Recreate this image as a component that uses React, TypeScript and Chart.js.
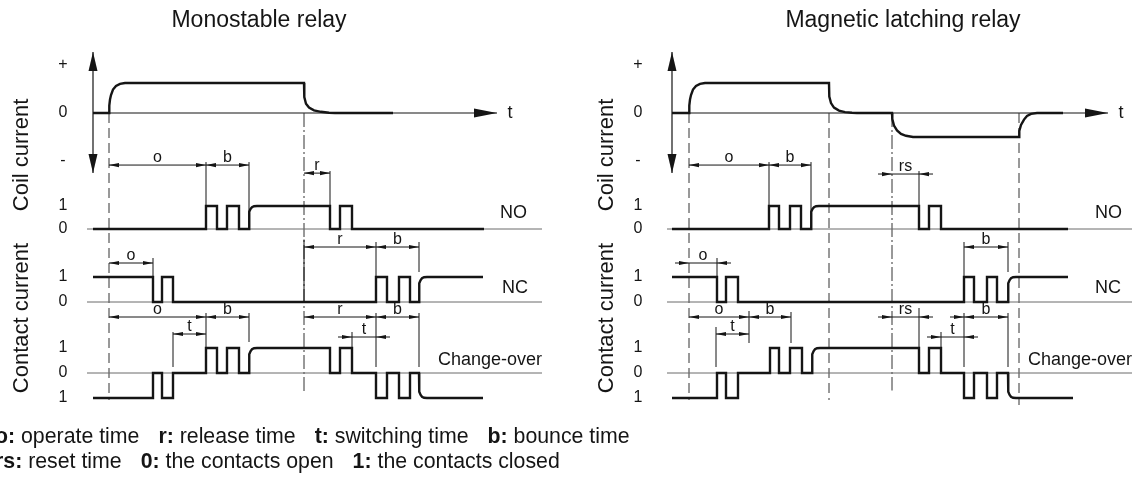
import React, { useEffect, useRef } from "react";
import { Chart, registerables } from "chart.js";
Chart.register(...registerables);

type Pt = [number, number];

// ---------- DATA (time in arbitrary units, 0 = coil energised; level per row) ----------
// Monostable relay
const monoCoil: Pt[] = [[-16,0],[0,0],[0.3,0.25],[1,0.45],[2,0.6],[4,0.78],[7,0.9],[11,0.97],[16,1],[195,1],[195.3,0.53],[197,0.31],[200,0.18],[205,0.09],[212,0.04],[220,0.01],[226,0],[284,0]];
const monoNO: Pt[] = [[-16,0],[97,0],[97,1],[108,1],[108,0],[118,0],[118,1],[130,1],[130,0],[140,0],[140,0.6],[140.5,0.75],[141.5,0.87],[143,0.95],[145,0.99],[148,1],[221,1],[221,0],[231,0],[231,1],[243,1],[243,0],[375,0]];
const monoNC: Pt[] = [[-16,1],[44,1],[44,0],[53,0],[53,1],[64,1],[64,0],[267,0],[267,1],[278,1],[278,0],[290,0],[290,1],[301,1],[301,0],[310,0],[310,0.6],[310.5,0.75],[311.5,0.87],[313,0.95],[315,0.99],[318,1],[374,1]];
const monoCO: Pt[] = [[-16,-1],[44,-1],[44,0],[53,0],[53,-1],[64,-1],[64,0],[97,0],[97,1],[108,1],[108,0],[118,0],[118,1],[130,1],[130,0],[140,0],[140,0.6],[140.5,0.75],[141.5,0.87],[143,0.95],[145,0.99],[148,1],[221,1],[221,0],[231,0],[231,1],[243,1],[243,0],[267,0],[267,-1],[278,-1],[278,0],[290,0],[290,-1],[301,-1],[301,0],[310,0],[310,-0.6],[310.5,-0.75],[311.5,-0.87],[313,-0.95],[315,-0.99],[318,-1],[374,-1]];
const monoBase: Pt[] = [[-22,0],[433,0]];

// Magnetic latching relay
const latchCoil: Pt[] = [[-17,0],[0,0],[0.3,0.25],[1,0.45],[2,0.6],[4,0.78],[7,0.9],[11,0.97],[16,1],[140,1],[140.3,0.55],[142,0.33],[145,0.18],[150,0.08],[156,0.03],[163,0.01],[168,0],[203,0],[203.3,-0.2],[205,-0.42],[208,-0.58],[212,-0.7],[217,-0.76],[224,-0.8],[330,-0.8],[330.3,-0.6],[332,-0.4],[335,-0.22],[338,-0.1],[342,-0.03],[348,0],[374,0]];
const latchNO: Pt[] = [[-17,0],[80,0],[80,1],[90,1],[90,0],[101,0],[101,1],[112,1],[112,0],[122,0],[122,0.6],[122.5,0.75],[123.5,0.87],[125,0.95],[127,0.99],[130,1],[230,1],[230,0],[240,0],[240,1],[252,1],[252,0],[379,0]];
const latchNC: Pt[] = [[-17,1],[28,1],[28,0],[37,0],[37,1],[49,1],[49,0],[275,0],[275,1],[285,1],[285,0],[298,0],[298,1],[308,1],[308,0],[319,0],[319,0.6],[319.5,0.75],[320.5,0.87],[322,0.95],[324,0.99],[327,1],[379,1]];
const latchCO: Pt[] = [[-17,-1],[28,-1],[28,0],[37,0],[37,-1],[49,-1],[49,0],[81,0],[81,1],[90,1],[90,0],[101,0],[101,1],[113,1],[113,0],[123,0],[123,0.6],[123.5,0.75],[124.5,0.87],[126,0.95],[128,0.99],[131,1],[230,1],[230,0],[240,0],[240,1],[252,1],[252,0],[275,0],[275,-1],[285,-1],[285,0],[298,0],[298,-1],[308,-1],[308,0],[319,0],[319,-0.6],[319.5,-0.75],[320.5,-0.87],[322,-0.95],[324,-0.99],[327,-1],[384,-1]];
const latchBase: Pt[] = [[-22,0],[443,0]];

// Tick labels per row: [text, level]
const coilTicks: [string, number][] = [["+", 1.6], ["0", 0], ["-", -1.57]];
const noTicks: [string, number][] = [["1", 1], ["0", 0]];
const ncTicks: [string, number][] = [["1", 1], ["0", 0]];
const coTicks: [string, number][] = [["1", 1], ["0", 0], ["1", -1]];

// Dimension arrows: [row axis, level, t1, t2, label, style]
type Dim = [string, number, number, number, string, string];
const monoDims: Dim[] = [
  ["yNO", 2.78, 0, 97, "o", "in"], ["yNO", 2.78, 97, 140, "b", "in"], ["yNO", 2.43, 195, 221, "r", "in"],
  ["yNC", 1.56, 0, 44, "o", "in"], ["yNC", 2.2, 195, 267, "r", "in"], ["yNC", 2.2, 267, 310, "b", "in"],
  ["yCO", 2.24, 0, 97, "o", "in"], ["yCO", 2.24, 97, 140, "b", "in"], ["yCO", 1.56, 64, 97, "t", "in"],
  ["yCO", 2.24, 195, 267, "r", "in"], ["yCO", 2.24, 267, 310, "b", "in"], ["yCO", 1.44, 243, 267, "t", "out"],
];
const latchDims: Dim[] = [
  ["yNO", 2.78, 0, 80, "o", "in"], ["yNO", 2.78, 80, 122, "b", "in"], ["yNO", 2.39, 203, 230, "rs", "out"],
  ["yNC", 1.56, 0, 28, "o", "out"], ["yNC", 2.2, 275, 319, "b", "in"],
  ["yCO", 2.24, 0, 60, "o", "in"], ["yCO", 2.24, 60, 102, "b", "in"], ["yCO", 1.56, 27, 60, "t", "in"],
  ["yCO", 2.24, 203, 230, "rs", "out"], ["yCO", 2.24, 275, 319, "b", "inx"], ["yCO", 1.44, 252, 275, "t", "out"],
];

// Extension lines: [row axis, t, level from, level to]
type Ext = [string, number, number, number];
const monoExt: Ext[] = [
  ["yNO", 97, 2.91, 1], ["yNO", 140, 2.91, 0], ["yNO", 221, 2.52, 1],
  ["yNC", 44, 1.76, 1], ["yNC", 267, 2.4, 1], ["yNC", 310, 2.4, 1.2], ["yNC", 195, 2.5, 0],
  ["yCO", 64, 1.64, 0.24], ["yCO", 97, 2.4, 1.04], ["yCO", 140, 2.4, 1.24],
  ["yCO", 243, 1.64, 1], ["yCO", 267, 2.4, 0.24], ["yCO", 310, 2.4, 0.24],
];
const latchExt: Ext[] = [
  ["yNO", 80, 2.91, 1], ["yNO", 122, 2.91, 0], ["yNO", 230, 2.52, 1],
  ["yNC", 28, 1.76, 1], ["yNC", 275, 2.4, 1], ["yNC", 319, 2.4, 1.2],
  ["yCO", 27, 1.84, 0.24], ["yCO", 60, 2.48, 1.2], ["yCO", 102, 2.44, 1.2],
  ["yCO", 230, 2.6, 1], ["yCO", 252, 1.64, 1], ["yCO", 275, 2.4, 0.24], ["yCO", 319, 2.4, 0.24],
];

// Switching instants (vertical guide lines): [t, style, end level on change-over row]
type VLine = [number, string, number];
const monoGuides: VLine[] = [[0, "dash", -1.08], [195, "dashdot", -0.8]];
const latchGuides: VLine[] = [[0, "dash", -1.08], [140, "dash", -1.08], [203, "dashdot", -0.7], [330, "dash", -1.28]];

const titles = ["Monostable relay", "Magnetic latching relay"];
const rowNames = ["NO", "NC", "Change-over"];
const axisTitles = ["Coil current", "Contact current"];
const legendLines: [string, string][][] = [
  [["o:", " operate time"], ["r:", " release time"], ["t:", " switching time"], ["b:", " bounce time"]],
  [["rs:", " reset time"], ["0:", " the contacts open"], ["1:", " the contacts closed"]],
];

// ---------- LAYOUT ----------
const W = 1141, H = 477;
const FONT = '"Liberation Sans", Arial, Helvetica, sans-serif';
const xAxis = (zeroPx: number) => ({ type: "linear" as const, display: false, bounds: "data" as const, min: -zeroPx, max: W - zeroPx });
const yAxis = (zeroPx: number, unitPx: number) => ({ type: "linear" as const, display: false, bounds: "data" as const, min: -(H - zeroPx) / unitPx, max: zeroPx / unitPx });

const panels = [
  { x: "xL", axisT: -16, arrowEnd: 388, tLabel: 401, tickT: -46, titleT: 150, axisTitleT: -87,
    rowLabelT: [391, 393, 329], dims: monoDims, ext: monoExt, guides: monoGuides },
  { x: "xR", axisT: -17, arrowEnd: 419, tLabel: 432, tickT: -51, titleT: 214, axisTitleT: -82,
    rowLabelT: [406, 406, 339], dims: latchDims, ext: latchExt, guides: latchGuides },
];

const INK = "#151515";

function head(ctx: CanvasRenderingContext2D, x: number, y: number, dx: number, dy: number, len: number, hw: number) {
  const bx = x - dx * len, by = y - dy * len;
  const px = -dy * hw, py = dx * hw;
  ctx.beginPath();
  ctx.moveTo(x, y);
  ctx.lineTo(bx + px, by + py);
  ctx.lineTo(bx - px, by - py);
  ctx.closePath();
  ctx.fill();
}

const diagramPlugin = {
  id: "relayDiagram",
  beforeDatasetsDraw(chart: any) {
    const ctx: CanvasRenderingContext2D = chart.ctx;
    const S = chart.scales;
    ctx.save();
    ctx.strokeStyle = INK;
    ctx.fillStyle = INK;
    for (const p of panels) {
      const X = (t: number) => S[p.x].getPixelForValue(t);
      const yc = (v: number) => S.yCoil.getPixelForValue(v);
      // axes with arrowheads
      ctx.lineWidth = 1.2;
      ctx.setLineDash([]);
      ctx.beginPath();
      ctx.moveTo(X(p.axisT), yc(2.03));
      ctx.lineTo(X(p.axisT), yc(-2.0));
      ctx.moveTo(X(p.axisT), yc(0));
      ctx.lineTo(X(p.arrowEnd), yc(0));
      ctx.stroke();
      head(ctx, X(p.axisT), yc(2.03), 0, -1, 19, 4.5);
      head(ctx, X(p.axisT), yc(-2.0), 0, 1, 19, 4.5);
      head(ctx, X(p.arrowEnd), yc(0), 1, 0, 23, 4.5);
      // guide lines
      ctx.lineWidth = 1;
      ctx.strokeStyle = "#333";
      for (const [t, style, endLv] of p.guides) {
        ctx.setLineDash(style === "dash" ? [10, 5] : [14, 3, 2, 3]);
        ctx.beginPath();
        ctx.moveTo(X(t), yc(0));
        ctx.lineTo(X(t), S.yCO.getPixelForValue(endLv));
        ctx.stroke();
      }
      ctx.setLineDash([]);
      ctx.strokeStyle = INK;
    }
    ctx.restore();
  },
  afterDatasetsDraw(chart: any) {
    const ctx: CanvasRenderingContext2D = chart.ctx;
    const S = chart.scales;
    ctx.save();
    ctx.strokeStyle = INK;
    ctx.fillStyle = INK;
    panels.forEach((p, pi) => {
      const X = (t: number) => S[p.x].getPixelForValue(t);
      // extension lines
      ctx.lineWidth = 1;
      ctx.beginPath();
      for (const [ax, t, a, b] of p.ext) {
        ctx.moveTo(X(t), S[ax].getPixelForValue(a));
        ctx.lineTo(X(t), S[ax].getPixelForValue(b));
      }
      ctx.stroke();
      // dimensions
      ctx.font = `16px ${FONT}`;
      ctx.textAlign = "center";
      ctx.textBaseline = "alphabetic";
      for (const [ax, lv, t1, t2, label, style] of p.dims) {
        const x1 = X(t1), x2 = X(t2), y = S[ax].getPixelForValue(lv);
        const L = 10, hw = 2.1, out = 14;
        ctx.lineWidth = 1;
        ctx.beginPath();
        if (style === "out") { ctx.moveTo(x1 - out, y); ctx.lineTo(x2 + out, y); }
        else if (style === "inx") { ctx.moveTo(x1 - out, y); ctx.lineTo(x2, y); }
        else { ctx.moveTo(x1, y); ctx.lineTo(x2, y); }
        ctx.stroke();
        if (style === "out") { head(ctx, x1, y, 1, 0, L, hw); head(ctx, x2, y, -1, 0, L, hw); }
        else { head(ctx, x1, y, -1, 0, L, hw); head(ctx, x2, y, 1, 0, L, hw); if (style === "inx") head(ctx, x1, y, 1, 0, L, hw); }
        ctx.fillText(label, (x1 + x2) / 2, y - 3);
      }
      // tick labels
      ctx.font = `16px ${FONT}`;
      ctx.textBaseline = "middle";
      const tx = X(p.tickT);
      const rowTicks: [string, [string, number][]][] = [["yCoil", coilTicks], ["yNO", noTicks], ["yNC", ncTicks], ["yCO", coTicks]];
      for (const [ax, ticks] of rowTicks) for (const [txt, lv] of ticks) ctx.fillText(txt, tx, S[ax].getPixelForValue(lv));
      // row names
      ctx.font = `18px ${FONT}`;
      ctx.textAlign = "left";
      const rowAx = ["yNO", "yNC", "yCO"], rowLv = [0.7, 0.56, 0.52];
      rowNames.forEach((n, i) => ctx.fillText(n, X(p.rowLabelT[i]), S[rowAx[i]].getPixelForValue(rowLv[i])));
      // "t" label
      ctx.textAlign = "center";
      ctx.fillText("t", X(p.tLabel), S.yCoil.getPixelForValue(0));
      // title
      ctx.font = `23px ${FONT}`;
      ctx.fillText(titles[pi], X(p.titleT), S.yCoil.getPixelForValue(3.07));
      // rotated axis titles
      ctx.font = `22px ${FONT}`;
      const ats: [string, string, number][] = [["yCoil", axisTitles[0], -1.4], ["yNC", axisTitles[1], -0.64]];
      for (const [ax, txt, lv] of ats) {
        ctx.save();
        ctx.translate(X(p.axisTitleT), S[ax].getPixelForValue(lv));
        ctx.rotate(-Math.PI / 2);
        ctx.fillText(txt, 0, 0);
        ctx.restore();
      }
    });
    // legend
    ctx.textAlign = "left";
    ctx.textBaseline = "middle";
    const lineY = [437, 462];
    legendLines.forEach((items, li) => {
      let x = -5;
      items.forEach(([k, v], ii) => {
        ctx.font = `bold 21.3px ${FONT}`;
        ctx.fillText(k, x, lineY[li]);
        x += ctx.measureText(k).width;
        ctx.font = `21.3px ${FONT}`;
        ctx.fillText(v, x, lineY[li]);
        x += ctx.measureText(v).width;
        if (ii < items.length - 1) x += 19;
      });
    });
    ctx.restore();
  },
};

const trace = (data: Pt[], x: string, y: string) => ({
  data: data.map(([a, b]) => ({ x: a, y: b })), xAxisID: x, yAxisID: y,
  borderColor: INK, borderWidth: 2.4, pointRadius: 0, tension: 0, fill: false, order: 0,
  borderJoinStyle: "miter" as const, borderCapStyle: "butt" as const,
});
const baseline = (data: Pt[], x: string, y: string) => ({
  data: data.map(([a, b]) => ({ x: a, y: b })), xAxisID: x, yAxisID: y,
  borderColor: "#6a6a6a", borderWidth: 1, pointRadius: 0, tension: 0, fill: false, order: 1,
});

export default function App() {
  const ref = useRef<HTMLCanvasElement>(null);
  useEffect(() => {
    const c = ref.current;
    if (!c) return;
    const datasets: any[] = [
      trace(monoCoil, "xL", "yCoil"), trace(monoNO, "xL", "yNO"), trace(monoNC, "xL", "yNC"), trace(monoCO, "xL", "yCO"),
      trace(latchCoil, "xR", "yCoil"), trace(latchNO, "xR", "yNO"), trace(latchNC, "xR", "yNC"), trace(latchCO, "xR", "yCO"),
      baseline(monoBase, "xL", "yNO"), baseline(monoBase, "xL", "yNC"), baseline(monoBase, "xL", "yCO"),
      baseline(latchBase, "xR", "yNO"), baseline(latchBase, "xR", "yNC"), baseline(latchBase, "xR", "yCO"),
    ];
    const chart = new Chart(c, {
      type: "line",
      data: { datasets },
      options: {
        animation: false,
        responsive: false,
        maintainAspectRatio: false,
        events: [],
        layout: { padding: 0 },
        plugins: { legend: { display: false }, tooltip: { enabled: false }, title: { display: false } },
        scales: {
          xL: xAxis(109),
          xR: xAxis(689),
          yCoil: yAxis(113, 30),
          yNO: yAxis(229, 23),
          yNC: yAxis(302, 25),
          yCO: yAxis(373, 25),
        } as any,
      },
      plugins: [diagramPlugin],
    });
    return () => chart.destroy();
  }, []);
  return (
    <div style={{ position: "fixed", left: 0, top: 0, width: W, height: H, background: "#fff" }}>
      <canvas ref={ref} width={W} height={H} style={{ display: "block", width: W, height: H }} />
    </div>
  );
}
